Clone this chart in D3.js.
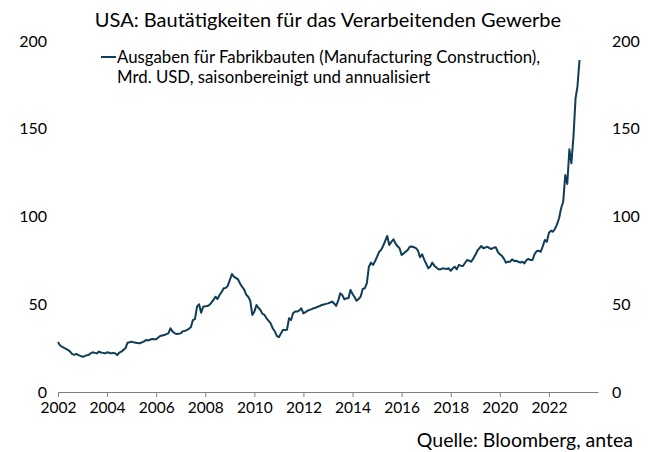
<!DOCTYPE html>
<html>
<head>
<meta charset="utf-8">
<script src="https://cdn.jsdelivr.net/npm/d3@7"></script>
<style>
  html, body { margin: 0; padding: 0; background: #fff; }
  svg { display: block; font-family: "Lato", "Open Sans", sans-serif; }
</style>
</head>
<body>
<div id="chart"></div>
<script>
// monthly values, Jan 2002 onwards (Mrd. USD)
const startMonth = "2002-01";
const values2002_2007 = [
  28.5, 26.5, 25.8, 25.2, 24.6, 23.9, 23.0, 21.6, 21.2, 21.7, 21.0, 20.6,
  20.1, 20.4, 20.9, 21.1, 22.0, 22.6, 22.3, 22.0, 23.0, 22.5, 22.3, 22.0,
  22.6, 22.4, 22.0, 22.3, 22.0, 21.1, 22.4, 23.0, 24.0, 24.9, 28.1, 28.4,
  28.7, 28.3, 28.1, 27.9, 27.7, 28.3, 28.7, 29.6, 29.4, 29.8, 30.2, 30.0,
  30.0, 31.0, 31.9, 32.2, 32.5, 33.0, 33.4, 36.3, 34.4, 33.6, 33.0, 33.2,
  33.4, 34.6, 34.8, 35.3, 36.0, 36.9, 41.0, 41.6, 48.6, 50.0, 45.2, 48.6
];
const values2008_2013 = [
  48.8, 49.0, 49.5, 50.9, 52.5, 54.3, 53.0, 55.3, 57.0, 59.1, 59.3, 60.5,
  63.8, 67.2, 65.7, 65.0, 64.2, 61.9, 60.0, 58.5, 55.5, 54.3, 52.0, 43.9,
  45.8, 49.6, 48.0, 46.7, 44.5, 43.9, 42.0, 40.5, 39.1, 36.3, 34.5, 32.0,
  31.2, 33.4, 35.3, 35.3, 35.5, 42.0, 41.0, 45.0, 45.8, 45.8, 46.5, 47.7,
  44.8, 45.5, 46.3, 46.8, 47.2, 47.7, 48.0, 48.6, 49.0, 49.6, 49.9, 50.2,
  50.5, 51.0, 51.5, 50.5, 49.0, 52.0, 56.2, 55.3, 52.8, 53.4, 53.4, 58.1
];
const values2014_2019 = [
  55.8, 54.0, 52.0, 53.0, 54.3, 58.7, 59.1, 61.9, 71.4, 73.7, 72.4, 74.5,
  77.1, 79.9, 80.9, 83.2, 86.0, 88.9, 83.8, 85.5, 87.0, 84.7, 83.0, 81.9,
  78.1, 79.0, 79.9, 80.9, 82.8, 82.9, 82.5, 82.0, 80.5, 76.8, 78.5, 75.6,
  73.0, 70.5, 71.4, 73.7, 72.0, 71.0, 70.0, 69.9, 70.5, 70.3, 70.1, 70.5,
  69.1, 70.5, 71.4, 69.9, 72.4, 72.0, 71.8, 73.5, 75.2, 74.8, 74.2, 76.0,
  78.0, 80.5, 81.8, 83.2, 81.9, 82.3, 82.8, 81.9, 81.5, 82.2, 82.5, 79.9
];
const values2020_2023 = [
  78.5, 77.6, 76.0, 73.7, 74.2, 74.2, 75.6, 74.6, 74.8, 74.2, 73.7, 74.2,
  73.3, 75.2, 75.8, 75.2, 75.2, 78.5, 80.2, 80.5, 79.9, 83.0, 86.6, 85.6,
  90.8, 91.9, 91.3, 93.0, 95.5, 99.0, 104.7, 108.4, 123.6, 118.5, 138.3, 130.3,
  145.5, 167.3, 174.0, 189.2
];
const yTicks = [0, 50, 100, 150, 200];
const xTickYears = [2002, 2004, 2006, 2008, 2010, 2012, 2014, 2016, 2018, 2020, 2022];

const title = "USA: Bautätigkeiten für das Verarbeitenden Gewerbe";
const legendLines = ["Ausgaben für Fabrikbauten (Manufacturing Construction),",
                     "Mrd. USD, saisonbereinigt und annualisiert"];
const source = "Quelle: Bloomberg, antea";

const width = 654, height = 452;
const lineColor = "#0f3d57";

const allValues = values2002_2007.concat(values2008_2013, values2014_2019, values2020_2023);
const t0 = d3.timeParse("%Y-%m")(startMonth);
const data = allValues.map((v, i) => ({ date: d3.timeMonth.offset(t0, i), value: v }));

const svg = d3.select("#chart").append("svg")
  .attr("width", width)
  .attr("height", height);

const x = d3.scaleTime()
  .domain([new Date(2002, 0, 1), new Date(2024, 0, 1)])
  .range([58, 598]);
const y = d3.scaleLinear()
  .domain([0, 200])
  .range([392, 41]);

// x axis: line with outward ticks
const xAxis = d3.axisBottom(x)
  .tickValues(xTickYears.map(yr => new Date(yr, 0, 1)))
  .tickFormat(d3.timeFormat("%Y"))
  .tickSizeInner(5)
  .tickSizeOuter(0)
  .tickPadding(5);

const gx = svg.append("g")
  .attr("transform", `translate(0,${y(0)})`)
  .call(xAxis);
gx.select(".domain").attr("stroke", "#7f7f7f");
gx.selectAll(".tick line").attr("stroke", "#7f7f7f");
gx.selectAll(".tick text")
  .attr("fill", "#000")
  .style("font-size", "15.5px")
  .style("font-family", "Lato, sans-serif");

// y labels on both sides, no axis line
const gyl = svg.append("g").attr("transform", "translate(47,0)")
  .call(d3.axisLeft(y).tickValues(yTicks).tickSize(0).tickPadding(0));
const gyr = svg.append("g").attr("transform", "translate(612,0)")
  .call(d3.axisRight(y).tickValues(yTicks).tickSize(0).tickPadding(0));
[gyl, gyr].forEach(g => {
  g.select(".domain").remove();
  g.selectAll(".tick text")
    .attr("fill", "#000")
    .style("font-size", "16px")
    .style("font-family", "Lato, sans-serif");
});

// series
const line = d3.line()
  .x(d => x(d.date))
  .y(d => y(d.value));

svg.append("path")
  .datum(data)
  .attr("fill", "none")
  .attr("stroke", lineColor)
  .attr("stroke-width", 2)
  .attr("stroke-linejoin", "round")
  .attr("d", line);

// title
svg.append("text")
  .attr("x", 328)
  .attr("y", 27)
  .attr("text-anchor", "middle")
  .style("font-size", "20px")
  .text(title);

// legend
svg.append("line")
  .attr("x1", 101).attr("x2", 116)
  .attr("y1", 57).attr("y2", 57)
  .attr("stroke", lineColor)
  .attr("stroke-width", 2);
svg.selectAll(".legend-text")
  .data(legendLines)
  .join("text")
  .attr("class", "legend-text")
  .attr("x", 117)
  .attr("y", (d, i) => 63 + i * 20)
  .style("font-size", "16.8px")
  .text(d => d);

// source
svg.append("text")
  .attr("x", 633)
  .attr("y", 447)
  .attr("text-anchor", "end")
  .style("font-size", "19.5px")
  .text(source);
</script>
</body>
</html>
